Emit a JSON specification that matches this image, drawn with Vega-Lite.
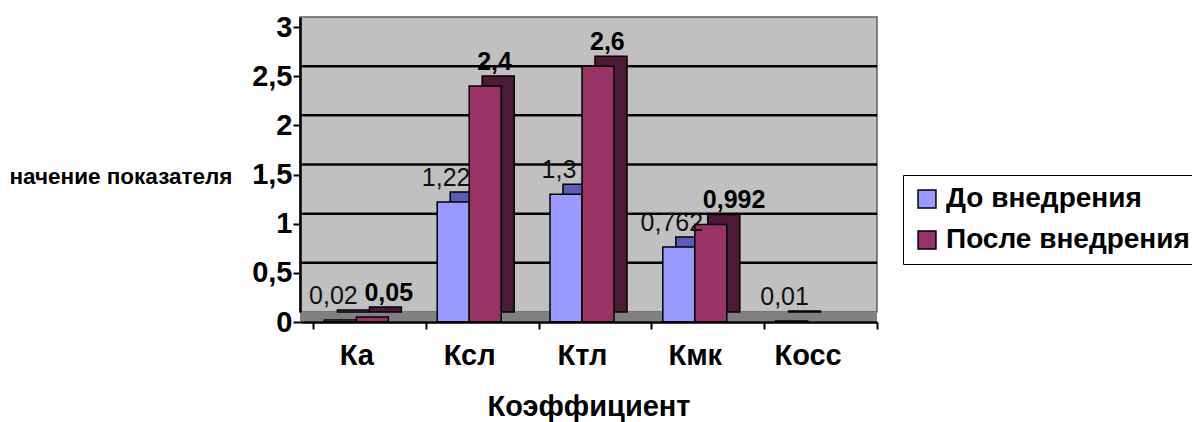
{
  "$schema": "https://vega.github.io/schema/vega-lite/v6.json",
  "autosize": "none",
  "width": 577,
  "height": 295,
  "padding": {"left": 300, "top": 17, "right": 315, "bottom": 110},
  "background": "white",
  "config": {
    "locale": {"number": {"decimal": ",", "thousands": " ", "grouping": [3], "currency": ["", ""]}},
    "font": "Liberation Sans",
    "view": {"fill": "#c0c0c0", "stroke": "#606060", "strokeWidth": 1.5},
    "axis": {"ticks": true, "domain": true, "tickColor": "black", "domainColor": "black"}
  },
  "data": {"values": [
    {"k": "Ка", "s": "До внедрения", "v": 0.02},
    {"k": "Ка", "s": "После внедрения", "v": 0.05},
    {"k": "Ксл", "s": "До внедрения", "v": 1.22},
    {"k": "Ксл", "s": "После внедрения", "v": 2.4},
    {"k": "Ктл", "s": "До внедрения", "v": 1.3},
    {"k": "Ктл", "s": "После внедрения", "v": 2.6},
    {"k": "Кмк", "s": "До внедрения", "v": 0.762},
    {"k": "Кмк", "s": "После внедрения", "v": 0.992},
    {"k": "Косс", "s": "До внедрения", "v": 0.01}
  ]},
  "encoding": {
    "y": {
      "field": "v", "type": "quantitative", "stack": null,
      "scale": {"domain": [0, 3], "nice": false},
      "axis": {
        "title": "начение показателя", "titleAngle": 0, "titleAlign": "right", "titleBaseline": "middle",
        "titleX": -68, "titleY": 159, "titleFontSize": 22.5, "titleFontWeight": "bold", "titleColor": "black",
        "values": [0, 0.5, 1, 1.5, 2, 2.5, 3], "format": "~g",
        "labelFontSize": 29, "labelFontWeight": "bold", "labelColor": "black", "labelPadding": 1,
        "tickOffset": 10, "tickSize": 7, "tickWidth": 2,
        "domainWidth": 2.5, "grid": false, "zindex": 2
      }
    }
  },
  "layer": [
    {
      "data": {"values": [{"v": 0.5}, {"v": 1}, {"v": 1.5}, {"v": 2}, {"v": 2.5}]},
      "mark": {"type": "rule", "color": "black", "strokeWidth": 2.5}
    },
    {
      "data": {"values": [{"v": 0}]},
      "mark": {"type": "rule", "color": "#808080", "strokeWidth": 9, "yOffset": 5}
    },
    {
      "encoding": {
        "x": {
          "field": "k", "type": "nominal", "sort": ["Ка", "Ксл", "Ктл", "Кмк", "Косс"],
          "scale": {"paddingInner": 0, "paddingOuter": 0.0576, "align": 1},
          "axis": {
            "title": "Коэффициент", "titleFontSize": 29, "titleFontWeight": "bold", "titleColor": "black", "titlePadding": 22,
            "labelAngle": 0, "labelFontSize": 29, "labelFontWeight": "bold", "labelColor": "black", "labelPadding": 12,
            "labelOffset": -13,
            "tickBand": "extent", "offset": 10, "tickSize": 7, "tickWidth": 2,
            "domainWidth": 2.5, "grid": false, "zindex": 2
          }
        }
      },
      "layer": [
        {
          "transform": [{"filter": "datum.s == 'До внедрения'"}],
          "mark": {"type": "bar", "width": 32, "xOffset": -16, "color": "#5c5cb8", "stroke": "black", "strokeWidth": 1.5}
        },
        {
          "transform": [{"filter": "datum.s == 'После внедрения'"}],
          "mark": {"type": "bar", "width": 32, "xOffset": 16, "color": "#4d1a35", "stroke": "black", "strokeWidth": 1.5}
        },
        {
          "transform": [{"filter": "datum.s == 'До внедрения'"}],
          "mark": {"type": "bar", "width": 32, "xOffset": -29, "yOffset": 10, "y2Offset": 10, "stroke": "black", "strokeWidth": 1.5},
          "encoding": {
            "y2": {"datum": 0},
            "color": {
              "field": "s", "type": "nominal",
              "scale": {"domain": ["До внедрения", "После внедрения"], "range": ["#9999ff", "#993366"]},
              "legend": {
                "title": null, "orient": "none", "legendX": 603, "legendY": 158,
                "fillColor": "white", "strokeColor": "black", "padding": 10,
                "symbolType": "square", "symbolSize": 320, "symbolStrokeColor": "black", "symbolStrokeWidth": 1.5, "symbolOpacity": 1,
                "labelFontSize": 28, "labelFontWeight": "bold", "labelColor": "black", "labelLimit": 400, "rowPadding": 13, "labelOffset": 5
              }
            }
          }
        },
        {
          "transform": [{"filter": "datum.s == 'После внедрения'"}],
          "mark": {"type": "bar", "width": 32, "xOffset": 3, "yOffset": 10, "y2Offset": 10, "stroke": "black", "strokeWidth": 1.5},
          "encoding": {"y2": {"datum": 0}, "color": {"field": "s", "type": "nominal"}}
        },
        {
          "transform": [{"filter": "datum.s == 'До внедрения'"}],
          "mark": {"type": "text", "fontSize": 25, "color": "#111111", "dx": -36, "dy": -6, "baseline": "alphabetic"},
          "encoding": {"text": {"field": "v", "type": "quantitative", "format": "~g"}}
        },
        {
          "transform": [{"filter": "datum.s == 'После внедрения'"}],
          "mark": {"type": "text", "fontSize": 25, "fontWeight": "bold", "color": "black", "align": "left", "dx": -5, "dy": -6, "baseline": "alphabetic"},
          "encoding": {"text": {"field": "v", "type": "quantitative", "format": "~g"}}
        }
      ]
    }
  ]
}
